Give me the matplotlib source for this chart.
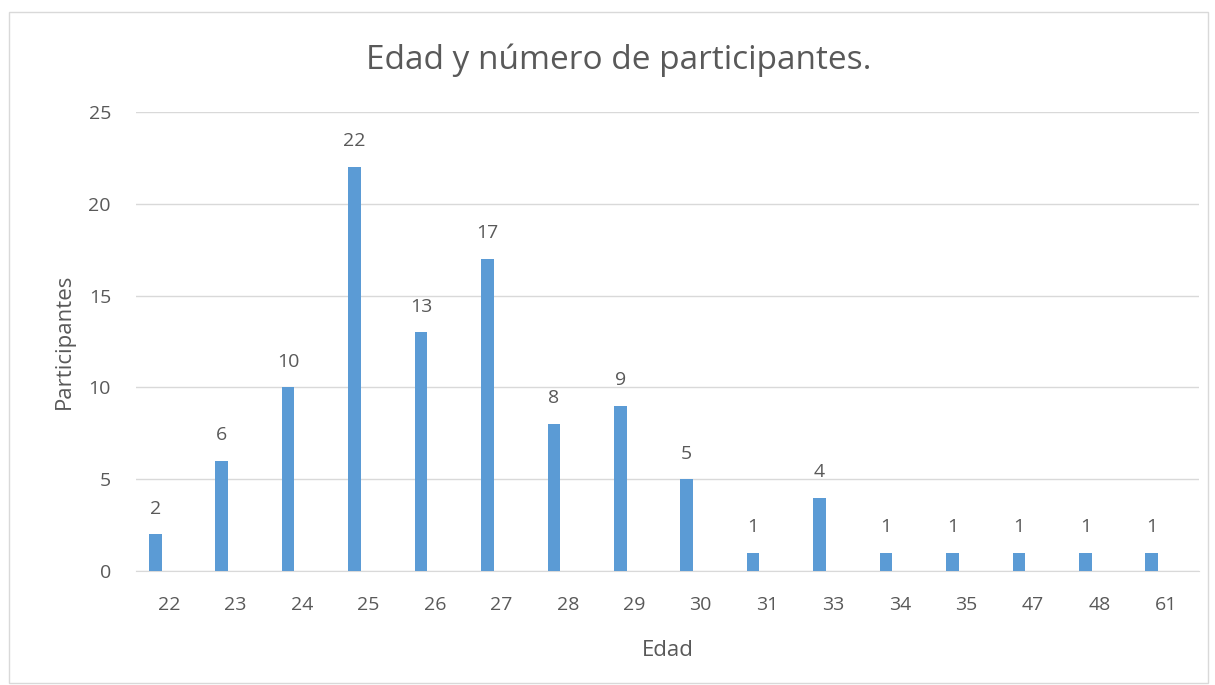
import matplotlib.pyplot as plt
from matplotlib import patches
import numpy as np

# datos del grafico #
edades = ['22', '23', '24', '25', '26', '27', '28', '29', '30', '31', '33', '34', '35', '47', '48', '61']
participantes = [2, 6, 10, 22, 13, 17, 8, 9, 5, 1, 4, 1, 1, 1, 1, 1]

plt.rcParams['font.family'] = ['Open Sans', 'DejaVu Sans']
gris = '#595959'

fig = plt.figure(figsize=(12.15, 6.85), dpi=100)
ax = fig.add_axes([0.1119, 0.1664, 0.8749, 0.6701])

# borde exterior del grafico
fig.patches.append(patches.Rectangle((9 / 1215, 2 / 685), 1199 / 1215, 671 / 685,
                                     transform=fig.transFigure, fill=False,
                                     edgecolor='#D9D9D9', linewidth=1))

x = np.arange(len(edades))
barras = ax.bar(x - 0.21, participantes, width=0.19, color='#5B9BD5', zorder=3)
for b, v in zip(barras, participantes):
    ax.annotate(str(v), xy=(b.get_x() + b.get_width() / 2, v), xytext=(0, 12),
                textcoords='offset points', ha='center', va='bottom',
                fontsize=14, color=gris)

ax.set_xlim(-0.5, len(edades) - 0.5)
ax.set_ylim(0, 25)
ax.set_yticks(range(0, 26, 5))
ax.set_xticks(x)
ax.set_xticklabels(edades)
ax.yaxis.grid(True, color='#D9D9D9', linewidth=1, zorder=0)
for s in ['top', 'right', 'left']:
    ax.spines[s].set_visible(False)
ax.spines['bottom'].set_color('#D9D9D9')
ax.tick_params(axis='both', length=0, labelsize=14, colors=gris)
ax.tick_params(axis='x', pad=18)
ax.tick_params(axis='y', pad=18)

ax.set_xlabel('Edad', fontsize=16, color=gris, labelpad=19)
ax.set_ylabel('Participantes', fontsize=16, color=gris, labelpad=10)
fig.text(0.509, 0.912, 'Edad y número de participantes.', ha='center', va='center',
         fontsize=24, color=gris)

fig.savefig('out.png', dpi=100)
